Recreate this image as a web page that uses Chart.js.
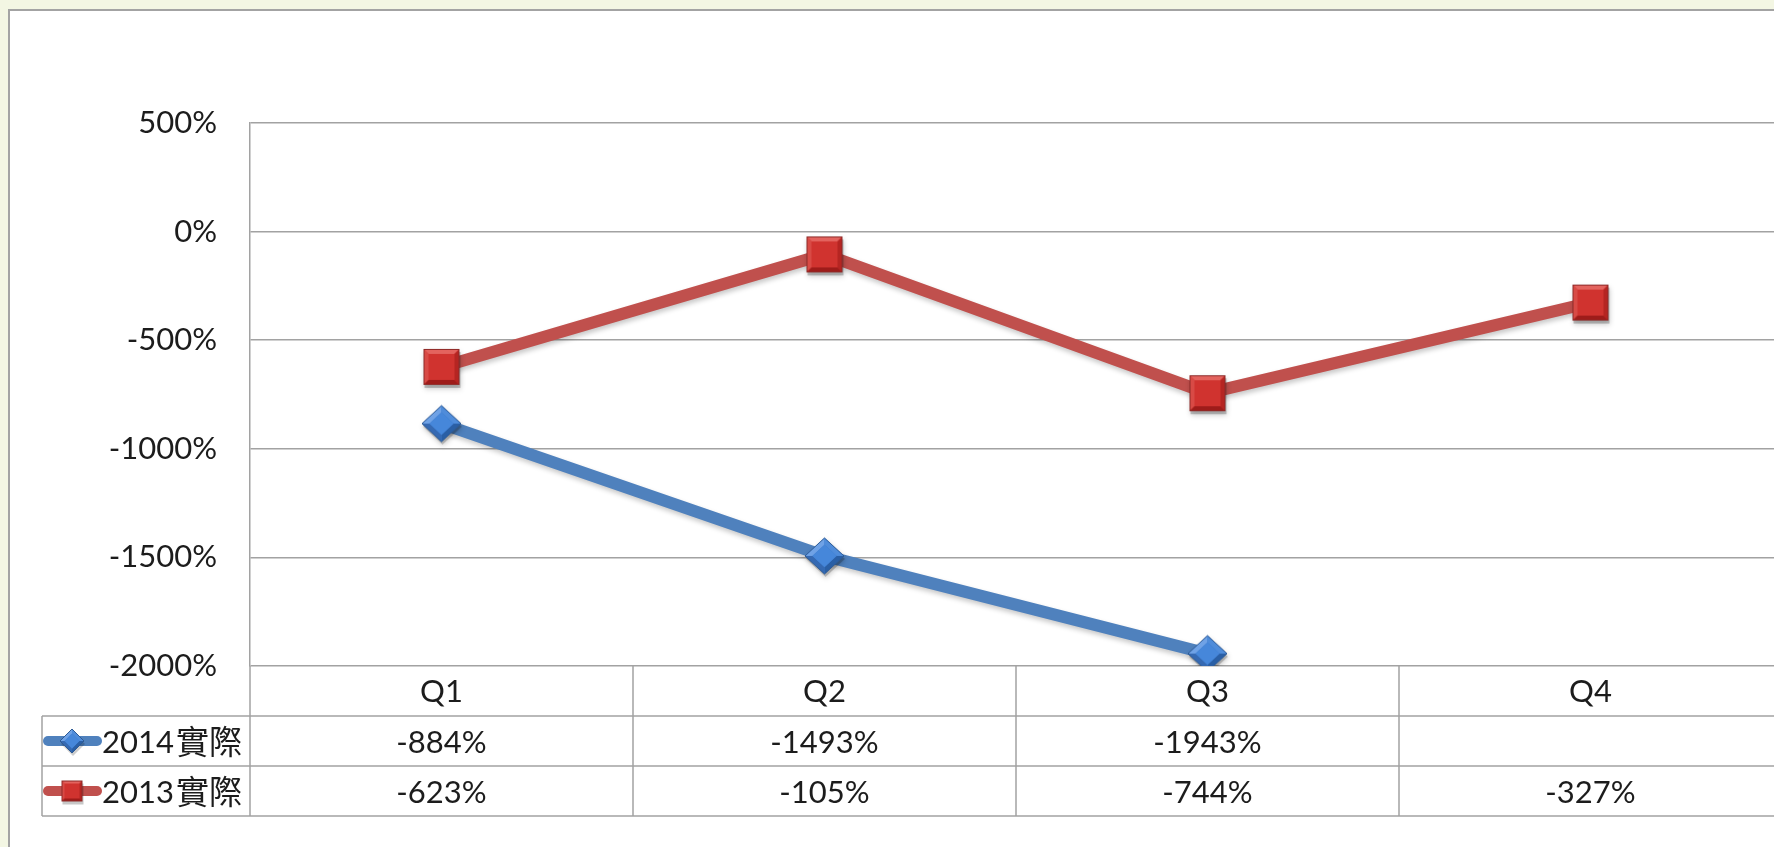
<!DOCTYPE html>
<html><head><meta charset="utf-8">
<script src="https://cdn.jsdelivr.net/npm/chart.js@4.4.1/dist/chart.umd.min.js"></script>
<style>
html,body{margin:0;padding:0;background:#F3F6E3;overflow:hidden;width:1774px;height:847px;}
#frame{position:absolute;left:8px;top:9px;width:1820px;height:860px;background:#fff;border-left:2px solid #A3A3A3;border-top:2px solid #A3A3A3;}
#wrap{position:absolute;left:0;top:0;width:1800px;height:847px;}
</style></head><body>
<div id="frame"></div>
<div id="wrap"><canvas id="c" width="1800" height="847" style="width:1800px;height:847px"></canvas></div>
<script>
// ---- data ----
const categories = ['Q1', 'Q2', 'Q3', 'Q4'];
const seriesNames = ['2014實際', '2013實際'];
const actual2014 = [-884, -1493, -1943, null];
const actual2013 = [-623, -105, -744, -327];
const yTickValues = [500, 0, -500, -1000, -1500, -2000];

// ---- styles ----
const FONT = "Lato, 'Noto Sans CJK TC', sans-serif";
const TEXT = '#1c1c1c';
const GRID = '#A2A2A2';
const BLUE = '#4F81BD';
const RED = '#C0504D';

function poly(g, pts, fill) {
  g.beginPath(); g.moveTo(pts[0][0], pts[0][1]);
  for (let i = 1; i < pts.length; i++) g.lineTo(pts[i][0], pts[i][1]);
  g.closePath(); g.fillStyle = fill; g.fill();
}
function makeSquare(s) {
  const p = 5, c = document.createElement('canvas');
  c.width = c.height = s + 2 * p; const g = c.getContext('2d');
  g.fillStyle = 'rgba(0,0,0,0.22)'; g.fillRect(p + 1, p + 3, s, s);
  const o = p, b = Math.max(3, Math.round(s * 0.15));
  g.fillStyle = '#D0332F'; g.fillRect(o, o, s, s);
  poly(g, [[o, o], [o + s, o], [o + s - b, o + b], [o + b, o + b]], '#E3635E');
  poly(g, [[o, o], [o + b, o + b], [o + b, o + s - b], [o, o + s]], '#D84A45');
  poly(g, [[o + s, o], [o + s, o + s], [o + s - b, o + s - b], [o + s - b, o + b]], '#B52522');
  poly(g, [[o, o + s], [o + b, o + s - b], [o + s - b, o + s - b], [o + s, o + s]], '#9E1C1A');
  g.strokeStyle = '#8E2A28'; g.lineWidth = 1; g.strokeRect(o + 0.5, o + 0.5, s - 1, s - 1);
  return c;
}
function makeDiamond(w, h) {
  const p = 5, c = document.createElement('canvas');
  c.width = w + 2 * p; c.height = h + 2 * p; const g = c.getContext('2d');
  const cx = p + w / 2, cy = p + h / 2;
  poly(g, [[cx + 1, p + 3], [p + w + 1, cy + 3], [cx + 1, p + h + 3], [p + 1, cy + 3]], 'rgba(0,0,0,0.2)');
  const k = 0.62, iw = w / 2 * k, ih = h / 2 * k;
  const T = [cx, p], R = [p + w, cy], B = [cx, p + h], L = [p, cy];
  const t = [cx, cy - ih], r = [cx + iw, cy], b = [cx, cy + ih], l = [cx - iw, cy];
  poly(g, [T, R, B, L], '#3D7AC9');
  poly(g, [L, T, t, l], '#6FA2E6');
  poly(g, [T, R, r, t], '#4F8CDA');
  poly(g, [R, B, b, r], '#2A5FA5');
  poly(g, [B, L, l, b], '#3569B2');
  poly(g, [t, r, b, l], '#4687DA');
  g.beginPath(); g.moveTo(T[0], T[1]); g.lineTo(R[0], R[1]); g.lineTo(B[0], B[1]); g.lineTo(L[0], L[1]); g.closePath();
  g.strokeStyle = '#2D5A94'; g.lineWidth = 1; g.stroke();
  return c;
}
const sqBig = makeSquare(36), sqSmall = makeSquare(21);
const diBig = makeDiamond(39, 36), diSmall = makeDiamond(24, 24);

const seriesStyle = [
  { color: BLUE, width: 12, marker: diBig, legendMarker: diSmall },
  { color: RED, width: 12, marker: sqBig, legendMarker: sqSmall }
];
const seriesData = [actual2014, actual2013];

const shadowPlugin = {
  id: 'shadow',
  beforeDatasetsDraw(chart) {
    const ctx = chart.ctx; ctx.save();
    ctx.shadowColor = 'rgba(0,0,0,0.22)'; ctx.shadowBlur = 5; ctx.shadowOffsetX = 1; ctx.shadowOffsetY = 3;
  },
  afterDatasetsDraw(chart) { chart.ctx.restore(); }
};

const tablePlugin = {
  id: 'dataTable',
  afterDraw(chart) {
    const ctx = chart.ctx, xs = chart.scales.x, a = chart.chartArea;
    const rowH = 50, top0 = a.bottom, tableLeft = 42;
    const n = categories.length;
    const centers = categories.map((_, i) => xs.getPixelForValue(i));
    ctx.save();
    ctx.strokeStyle = GRID; ctx.lineWidth = 1.5;
    const line = (x1, y1, x2, y2) => { ctx.beginPath(); ctx.moveTo(x1, y1); ctx.lineTo(x2, y2); ctx.stroke(); };
    for (let r = 1; r <= seriesNames.length + 1; r++) line(tableLeft, top0 + r * rowH, a.right, top0 + r * rowH);
    const bottom = top0 + (seriesNames.length + 1) * rowH;
    line(a.left, top0, a.left, bottom);
    line(tableLeft, top0 + rowH, tableLeft, bottom);
    for (let i = 1; i < n; i++) { const x = (centers[i - 1] + centers[i]) / 2; line(x, top0, x, bottom); }
    line(a.right, top0, a.right, bottom);

    ctx.fillStyle = TEXT; ctx.font = '31px ' + FONT;
    ctx.textAlign = 'center'; ctx.textBaseline = 'middle';
    categories.forEach((c, i) => ctx.fillText(c, centers[i], top0 + rowH / 2 + 1));
    seriesData.forEach((arr, s) => {
      const yc = top0 + (s + 1) * rowH + rowH / 2 + 2;
      arr.forEach((v, i) => { if (v !== null) ctx.fillText(v + '%', centers[i], yc); });
      // legend key
      const st = seriesStyle[s];
      ctx.save();
      ctx.strokeStyle = st.color; ctx.lineWidth = 10; ctx.lineCap = 'round';
      line(48, yc - 2, 97, yc - 2);
      ctx.restore();
      const m = st.legendMarker;
      ctx.drawImage(m, 72 - m.width / 2, yc - 2 - m.height / 2);
      ctx.textAlign = 'left';
      ctx.font = '31px ' + FONT;
      const num = seriesNames[s].slice(0, 4), cjk = seriesNames[s].slice(4);
      ctx.fillText(num, 102, yc);
      const w = ctx.measureText(num).width;
      ctx.font = '33px ' + FONT;
      ctx.fillText(cjk, 102 + w + 2, yc);
      ctx.font = '31px ' + FONT;
      ctx.textAlign = 'center';
    });
    ctx.restore();
  }
};

new Chart(document.getElementById('c'), {
  type: 'line',
  data: {
    labels: categories,
    datasets: seriesData.map((arr, s) => ({
      label: seriesNames[s],
      data: arr,
      borderColor: seriesStyle[s].color,
      borderWidth: seriesStyle[s].width,
      backgroundColor: seriesStyle[s].color,
      pointStyle: seriesStyle[s].marker,
      pointRadius: 19,
      tension: 0,
      spanGaps: false,
      fill: false
    })).reverse()
  },
  options: {
    responsive: false,
    animation: false,
    devicePixelRatio: 1,
    layout: { autoPadding: false, padding: { left: 0, top: 123, right: 18, bottom: 181 } },
    plugins: { legend: { display: false }, tooltip: { enabled: false } },
    scales: {
      x: { type: 'category', offset: true, display: false },
      y: {
        min: -2000, max: 500,
        afterBuildTicks: (s) => { s.ticks = yTickValues.map(v => ({ value: v })); },
        afterFit: (s) => { s.width = 250; },
        ticks: {
          padding: 33, color: TEXT,
          font: { family: FONT, size: 31 },
          callback: (v) => v + '%'
        },
        grid: { color: GRID, lineWidth: 1.5, drawTicks: false },
        border: { display: true, color: GRID, width: 1.5 }
      }
    }
  },
  plugins: [shadowPlugin, tablePlugin]
});
</script>
</body></html>
